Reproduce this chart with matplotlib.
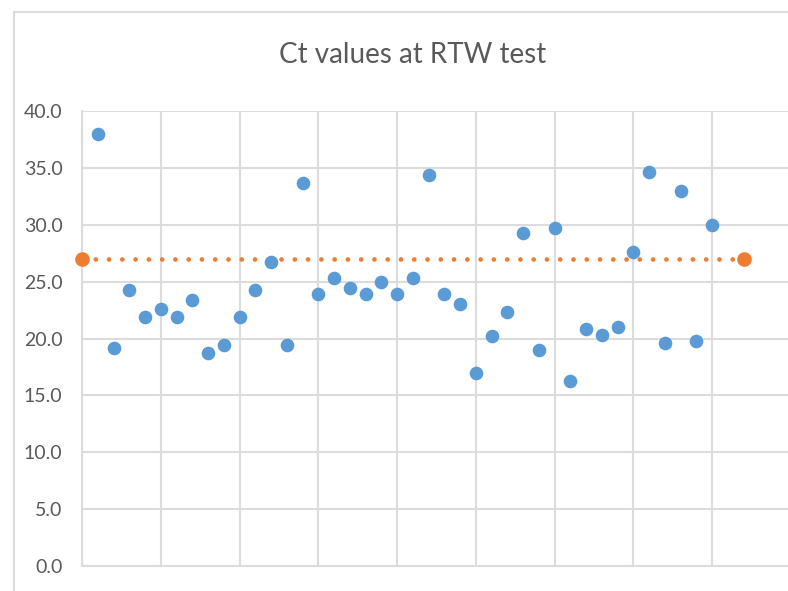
import matplotlib.pyplot as plt
from matplotlib.patches import Rectangle

# Ct values, samples 1..40
sample_no = list(range(1, 41))
ct_values = [38.0, 19.2, 24.3, 21.9, 22.6, 21.9, 23.4, 18.7, 19.4, 21.9,
             24.3, 26.7, 19.4, 33.7, 23.9, 25.3, 24.4, 23.9, 25.0, 23.9,
             25.3, 34.4, 23.9, 23.0, 17.0, 20.2, 22.3, 29.3, 19.0, 29.7,
             16.3, 20.8, 20.3, 21.0, 27.6, 34.6, 19.6, 33.0, 19.8, 30.0]
# cut-off line
cutoff_x = [0, 42]
cutoff_y = [27.0, 27.0]

plt.rcParams['font.family'] = ['Lato', 'DejaVu Sans']

fig = plt.figure(figsize=(7.88, 5.91), dpi=100)
W, H = 788, 591
# chart area border
fig.patches.append(Rectangle((14 / W, -0.1), 1.2, (H - 12) / H + 0.1,
                             transform=fig.transFigure, fill=False,
                             edgecolor='#dcdcdc', lw=1.5))

left, right, top, bottom = 82, 791, 111, 566
ax = fig.add_axes([left / W, 1 - bottom / H, (right - left) / W, (bottom - top) / H])
ax.set_xlim(0, 45)
ax.set_ylim(0, 40)
ax.set_xticks(range(0, 46, 5))
ax.set_yticks(range(0, 41, 5))
ax.set_yticklabels(['%.1f' % v for v in range(0, 41, 5)])
ax.set_xticklabels([])
ax.tick_params(length=0, labelsize=14, labelcolor='#595959', pad=14)
ax.grid(True, color='#dcdcdc', lw=1.5)
ax.set_axisbelow(True)
for s in ax.spines.values():
    s.set_visible(False)
for side in ['bottom', 'left']:
    ax.spines[side].set_visible(True)
    ax.spines[side].set_color('#dcdcdc')
    ax.spines[side].set_linewidth(1.5)

ax.plot(cutoff_x, cutoff_y, color='#ed7d31', lw=3.4, dashes=(0.01, 2.8),
        dash_capstyle='round', marker='o', markersize=9.5, clip_on=False, zorder=3)
ax.plot(sample_no, ct_values, 'o', color='#5b9bd5', markersize=8.8, zorder=4)

fig.text(413 / W, 1 - 55 / H, 'Ct values at RTW test', ha='center', va='center',
         fontsize=20, color='#595959')

fig.savefig('out.png', dpi=100)
